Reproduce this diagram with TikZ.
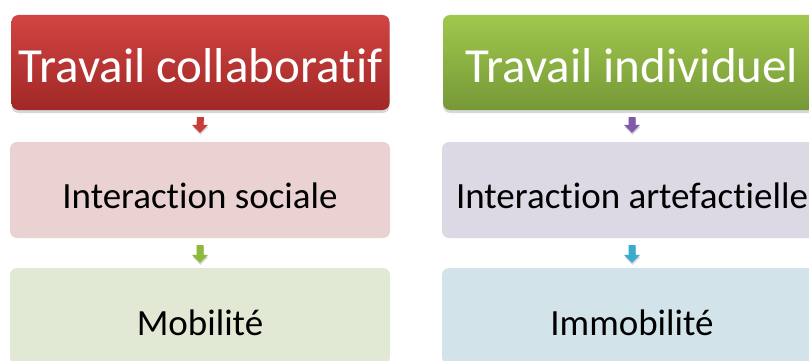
\documentclass[tikz,border=0pt]{standalone}
\usepackage{fontspec}
\setmainfont{Carlito}[Ligatures={NoCommon}]
\usetikzlibrary{shadows,calc}
\definecolor{redtop}{RGB}{210,68,66}
\definecolor{redbot}{RGB}{160,40,38}
\definecolor{greentop}{RGB}{160,200,76}
\definecolor{greenbot}{RGB}{118,152,56}
\definecolor{pinkbox}{RGB}{234,210,210}
\definecolor{lavbox}{RGB}{220,216,228}
\definecolor{sagebox}{RGB}{225,232,212}
\definecolor{bluebox}{RGB}{210,228,234}
\definecolor{redarrow}{RGB}{200,60,58}
\definecolor{greenarrow}{RGB}{140,186,60}
\definecolor{purplearrow}{RGB}{128,90,170}
\definecolor{bluearrow}{RGB}{60,170,205}
\newcommand\barrow[3]{%
  \fill[#3, drop shadow={shadow xshift=0.5pt, shadow yshift=-2pt, opacity=0.3}]
    ($(#1)+(-3.5,0)$) -- ($(#1)+(3.5,0)$) -- ($(#2)+(3.5,-8)$) -- ($(#2)+(8,-8)$)
    -- (#2) -- ($(#2)+(-8,-8)$) -- ($(#2)+(-3.5,-8)$) -- cycle;}
\newcommand\lowtxt[2]{\raisebox{-#1pt}[0pt][0pt]{#2}}
\newcommand\nl{\kern0pt}
\begin{document}
\begin{tikzpicture}[x=1pt,y=-1pt,
  headbox/.style={rounded corners=7pt, minimum width=378pt, minimum height=95pt,
    text=white, font=\fontsize{49}{58}\selectfont, inner sep=0pt,
    drop shadow={shadow xshift=0pt, shadow yshift=-3pt, opacity=0.3}},
  subbox/.style={rounded corners=7pt, minimum width=380pt, minimum height=96pt,
    text=black, font=\fontsize{37}{44}\selectfont, inner sep=0pt}]
\useasboundingbox (0,0) rectangle (809,361);
\fill[white] (0,0) rectangle (809,361);
% left column
\node[headbox, top color=redtop, bottom color=redbot] (tl) at (200.5,62.5) {\lowtxt{20.5}{Travail collabora\nl tif}};
\node[subbox, fill=pinkbox] (ml) at (200,190) {\lowtxt{18.5}{Interac\nl t\nl ion sociale}};
\node[subbox, fill=sagebox] (bl) at (200,316) {\lowtxt{19.5}{Mobilité}};
% right column
\node[headbox, top color=greentop, bottom color=greenbot] (tr) at (632,62.5) {\lowtxt{20.5}{Travail individuel}};
\node[subbox, fill=lavbox] (mr) at (632,190) {\lowtxt{18.5}{Interac\nl t\nl ion artefac\nl t\nl ielle}};
\node[subbox, fill=bluebox] (br) at (632,316) {\lowtxt{19.5}{Immobilité}};
% arrows
\coordinate (a1s) at ([yshift=-7pt]tl.south);
\coordinate (a1e) at ([yshift=9pt]ml.north);
\coordinate (a2s) at ([yshift=-7pt]ml.south);
\coordinate (a2e) at ([yshift=5pt]bl.north);
\coordinate (b1s) at ([yshift=-7pt]tr.south);
\coordinate (b1e) at ([yshift=9pt]mr.north);
\coordinate (b2s) at ([yshift=-7pt]mr.south);
\coordinate (b2e) at ([yshift=5pt]br.north);
\barrow{a1s}{a1e}{redarrow}
\barrow{a2s}{a2e}{greenarrow}
\barrow{b1s}{b1e}{purplearrow}
\barrow{b2s}{b2e}{bluearrow}
\end{tikzpicture}
\end{document}
